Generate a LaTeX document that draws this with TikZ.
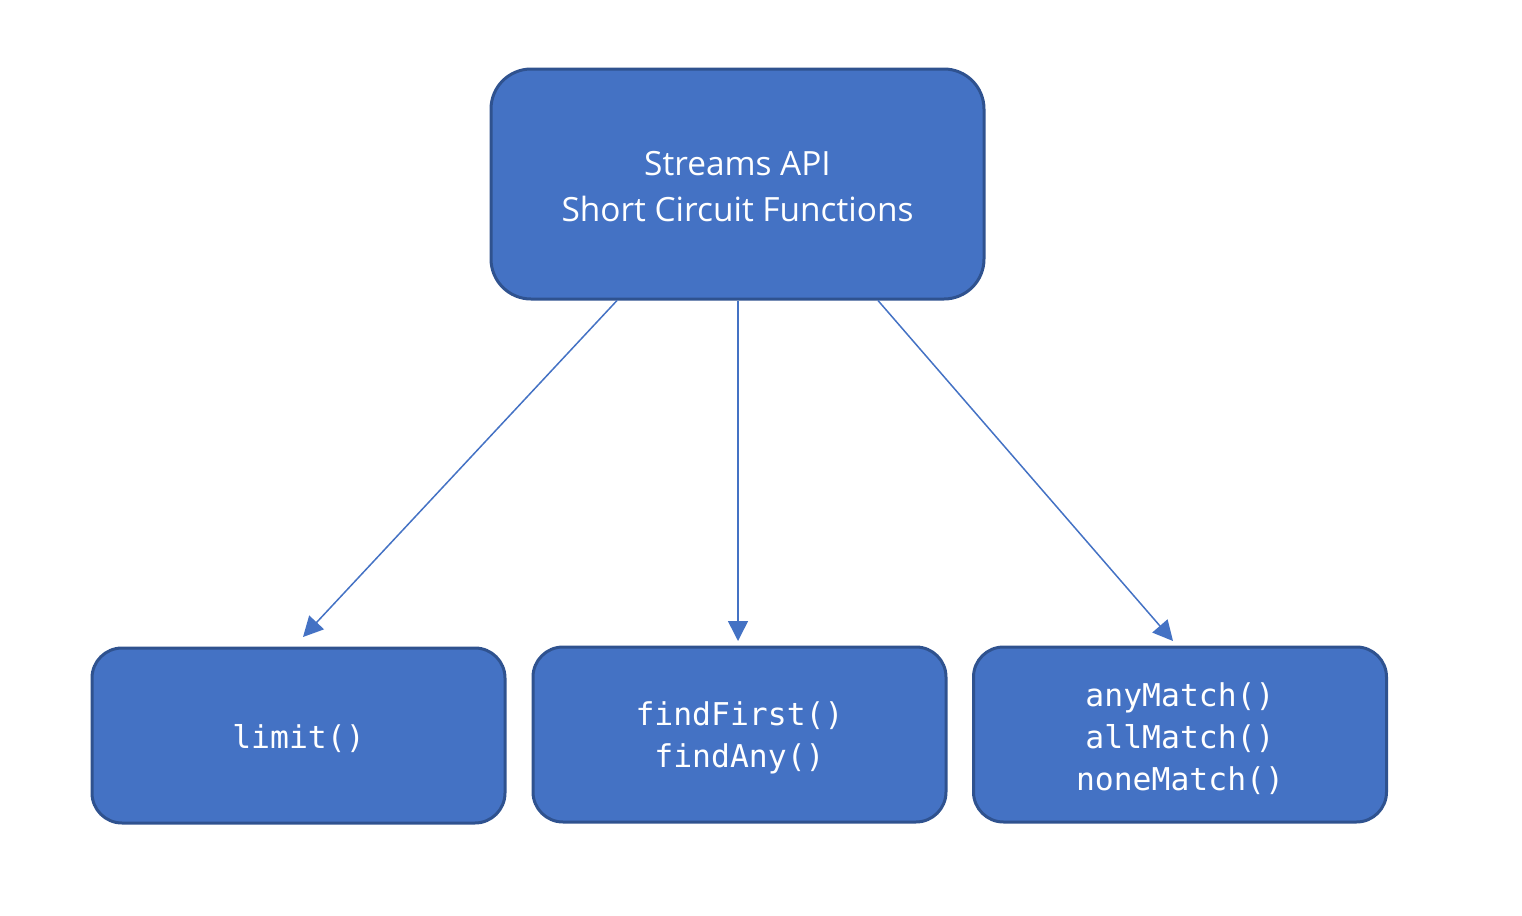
\documentclass[tikz,border=0pt]{standalone}
\usepackage{fontspec}
\setmainfont{Open Sans}
\newfontfamily\codefont{DejaVu Sans Mono}
\usetikzlibrary{arrows.meta}
\definecolor{boxfill}{HTML}{4472C4}
\definecolor{boxline}{HTML}{2F528F}
\tikzset{
  topbox/.style={draw=boxline, fill=boxfill, line width=1.5pt, rounded corners=20pt,
    minimum width=246.5pt, minimum height=115pt, text=white, align=center,
    font=\fontsize{16.7pt}{23pt}\selectfont, inner sep=0pt},
  leafbox/.style={draw=boxline, fill=boxfill, line width=1.5pt, rounded corners=15pt,
    minimum width=206.5pt, minimum height=87.5pt, text=white, align=center,
    font=\codefont\fontsize{15.7pt}{21pt}\selectfont, inner sep=0pt},
  arr/.style={draw=boxfill, line width=0.75pt, -{Triangle[length=10pt,width=10pt]}}
}
\begin{document}
\begin{tikzpicture}[x=0.5pt,y=-0.5pt]
\useasboundingbox (0,0) rectangle (1522,916);
\node[topbox] (top) at (737.5,184) {};
\node[text=white, align=center, font=\fontsize{16.7pt}{23pt}\selectfont] (toptext) at (737.5,187) {Streams API\\Short Circuit Functions};
\node[leafbox] (b1) at (298.5,735.5) {};
\node[leafbox] (b2) at (739.5,734.5) {};
\node[leafbox] (b3) at (1180,734.5) {};
\node[text=white, align=center, font=\codefont\fontsize{15.7pt}{21pt}\selectfont] (t1) at (298.5,738.5) {limit()};
\node[text=white, align=center, font=\codefont\fontsize{15.7pt}{21pt}\selectfont] (t2) at (739.5,737.5) {findFirst()\\findAny()};
\node[text=white, align=center, font=\codefont\fontsize{15.7pt}{21pt}\selectfont] (t3) at (1180,738.5) {anyMatch()\\allMatch()\\noneMatch()};
\coordinate (e1) at (303,637);
\coordinate (e2) at (738,641);
\coordinate (e3) at (1173,641);
\draw[arr] ([xshift=-60.25pt]top.south) -- (e1);
\draw[arr] ([xshift=0.25pt]top.south) -- (e2);
\draw[arr] ([xshift=70.25pt]top.south) -- (e3);
\end{tikzpicture}
\end{document}
